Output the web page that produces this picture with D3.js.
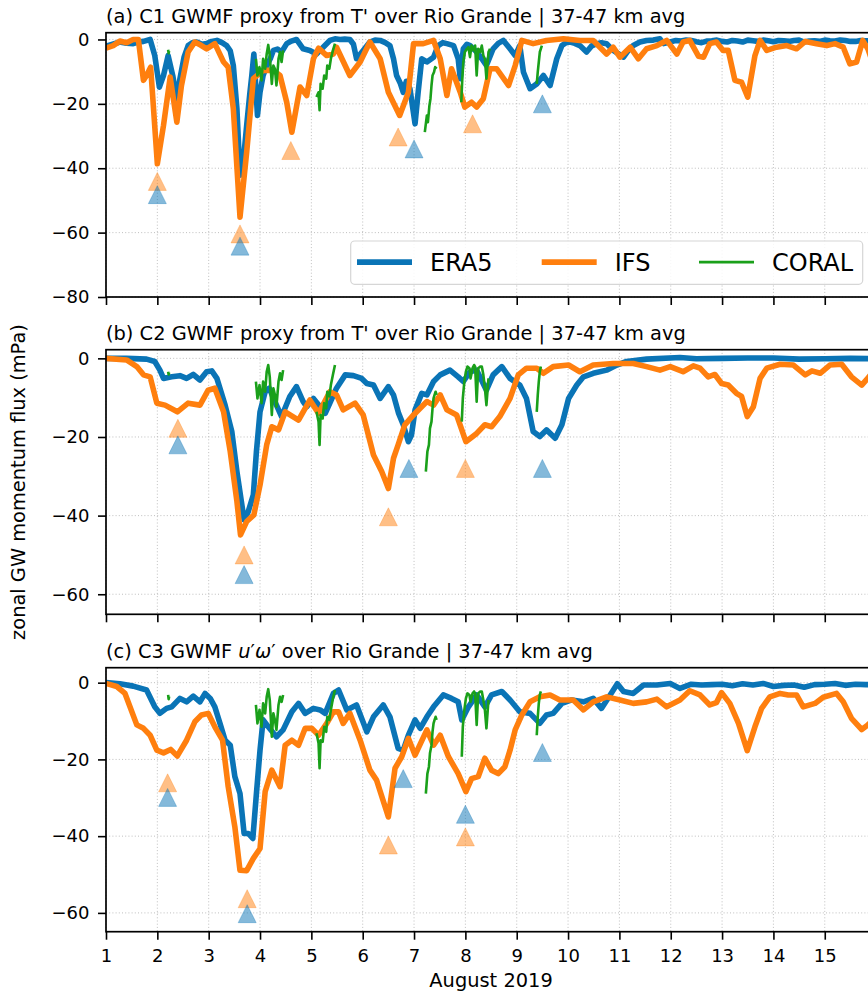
<!DOCTYPE html>
<html><head><meta charset="utf-8">
<script src="https://cdn.jsdelivr.net/npm/d3@7"></script>
<style>
body{margin:0;background:#fff}
svg{display:block}
text{font-family:"DejaVu Sans",sans-serif;fill:#000}
</style>
</head><body>
<svg id="chart" width="868" height="992"></svg>
<script>
// ---------- tick labels / text ----------
const xTicks = [1,2,3,4,5,6,7,8,9,10,11,12,13,14,15];
const yTicksA = [0,-20,-40,-60,-80];
const yTicksBC = [0,-20,-40,-60];
const legendLabels = ["ERA5","IFS","CORAL"];
const xLabel = "August 2019";
const yLabel = "zonal GW momentum flux (mPa)";

// ---------- panel (a) C1 ----------
const era5A = [[1.0,-2.1],[1.13,-1.5],[1.27,-0.8],[1.40,-1.2],[1.53,-1.3],[1.63,-0.8],[1.73,-0.6],[1.86,0],[1.95,-5.0],[2.04,-14.8],[2.12,-11.2],[2.21,-5.0],[2.30,-11.2],[2.38,-18.9],[2.44,-12.2],[2.52,-5.5],[2.60,-1.9],[2.68,-1.0],[2.77,-0.8],[2.87,-1.5],[2.96,-1.3],[3.06,-0.6],[3.16,-0.3],[3.26,-1.0],[3.35,-1.9],[3.42,-3.5],[3.48,-8.1],[3.55,-21.5],[3.61,-42.2],[3.68,-37.0],[3.74,-26.7],[3.80,-17],[3.84,-11.2],[3.88,-4.5],[3.95,-23.6],[4.00,-16.4],[4.06,-11.2],[4.13,-8.1],[4.20,-6],[4.26,-3.4],[4.34,-3.0],[4.42,-3.9],[4.52,-1.3],[4.61,-0.5],[4.71,0],[4.84,-2.9],[4.97,-3.4],[5.10,-4.5],[5.23,-2.4],[5.36,-0.3],[5.46,0.2],[5.56,0],[5.65,0.1],[5.75,0],[5.82,-1.5],[5.88,-6.0],[6.01,-3.4],[6.14,-0.8],[6.24,-0.2],[6.34,-0.3],[6.44,-1.0],[6.53,-1.9],[6.60,-6],[6.66,-11.2],[6.73,-13.5],[6.79,-16.4],[6.85,-13],[6.92,-15.3],[7.02,-26.2],[7.08,-16.4],[7.15,-6.0],[7.25,-7.0],[7.38,-5.5],[7.47,-1.9],[7.56,-1.0],[7.64,-1.3],[7.77,-1.9],[7.86,-6.0],[7.90,-12.2],[7.96,-2.9],[8.03,-1.5],[8.09,-1.9],[8.22,-3.9],[8.32,-6],[8.41,-8.1],[8.54,-2.9],[8.64,-1.2],[8.74,-0.3],[8.87,-2.9],[8.97,-5.0],[9.06,-1.9],[9.13,-10.1],[9.26,-15.3],[9.39,-13.8],[9.52,-11.2],[9.65,-14.3],[9.78,-6.0],[9.88,-1.9],[9.96,-1.0],[10.04,-0.8],[10.13,-1.2],[10.23,-1.9],[10.36,-3.9],[10.46,-2.0],[10.56,-1.3],[10.65,-1.0],[10.75,-1.3],[10.88,-3.4],[11.08,-5.5],[11.17,-3.5],[11.27,-1.9],[11.40,-0.8],[11.53,-0.3],[11.66,-0.2],[11.79,0.2],[11.86,-1.3],[11.99,-0.8],[12.1,-0.3],[12.2,-0.5],[12.3,-0.2],[12.4,-0.3],[12.5,-0.7],[12.6,-1.0],[12.7,-0.5],[12.8,-0.4],[12.9,-0.2],[13.0,-0.6],[13.1,-0.8],[13.2,-0.3],[13.3,-0.5],[13.4,-0.8],[13.5,-0.2],[13.6,-0.4],[13.7,-0.6],[13.8,-0.2],[13.9,-0.4],[14.0,-0.7],[14.1,-0.3],[14.2,-0.4],[14.3,-0.6],[14.4,-0.3],[14.5,-0.2],[14.6,-0.8],[14.7,-0.5],[14.8,-0.4],[14.9,-0.6],[15.0,-0.2],[15.1,-0.4],[15.2,-0.5],[15.3,-0.2],[15.4,-0.3],[15.5,-0.6],[15.6,-0.6],[15.7,-0.3],[15.8,-0.4],[15.9,-0.5],[16.0,-0.5]];
const ifsA = [[1.0,-2.7],[1.14,-1.9],[1.27,-0.5],[1.40,-1.0],[1.53,0],[1.63,0],[1.73,-12.7],[1.79,-11.2],[1.87,-8.6],[2.0,-38.6],[2.12,-26.7],[2.25,-11.7],[2.38,-25.7],[2.47,-14.3],[2.60,-3.9],[2.73,-0.8],[2.85,-1.8],[2.96,-2.9],[3.12,-1.3],[3.29,-7.0],[3.38,-8.6],[3.48,-21.5],[3.61,-55.2],[3.74,-35.0],[3.87,-12.2],[4.06,-9.6],[4.26,-9.6],[4.39,-11.2],[4.52,-19.5],[4.62,-28.8],[4.78,-14.8],[4.91,-17.4],[5.04,-6.0],[5.14,-2.7],[5.30,-5.0],[5.43,-4.5],[5.49,-2.4],[5.75,-11.2],[5.95,-7.0],[6.14,-0.8],[6.34,-6.0],[6.50,-16.4],[6.72,-23.6],[6.89,-16.4],[6.99,-1.3],[7.18,-1.3],[7.38,-0.3],[7.51,-6.0],[7.64,-17.4],[7.73,-9.1],[7.90,-16.4],[7.99,-21.0],[8.12,-19.5],[8.22,-21.0],[8.35,-18.4],[8.48,-9.1],[8.61,-9.1],[8.84,-14.3],[8.97,-8.1],[9.10,-0.3],[9.32,-1.3],[9.58,-0.3],[9.91,0.2],[10.23,-0.3],[10.49,-0.3],[10.75,-4.5],[10.88,-2.4],[11.01,-5.5],[11.21,-2.4],[11.37,-6.0],[11.53,-2.9],[11.73,-1.9],[11.92,-0.3],[12.12,-4.5],[12.24,-0.8],[12.37,-0.3],[12.54,-5.2],[12.64,-5.5],[12.76,-1.3],[12.89,-0.8],[13.02,-3.4],[13.12,-3.4],[13.25,-12.7],[13.38,-13.3],[13.50,-17.9],[13.64,-5.0],[13.74,-0.3],[13.87,-3.4],[14.06,-2.4],[14.26,-1.9],[14.45,-2.9],[14.62,-0.6],[14.84,-1.3],[15.04,-1.9],[15.20,-1.3],[15.36,-2.4],[15.49,-7.6],[15.62,-7.0],[15.74,-0.3],[15.84,-2.9],[15.95,-8.0],[16.0,-5.0]];
const coralA = [
 [[2.21,-3.2],[2.22,-4.3],[2.23,-3.6]],
 [[3.92,-6.0],[3.95,-11.2],[3.99,-8.6],[4.03,-12.7],[4.06,-6.0],[4.10,-9.1],[4.13,-4.5],[4.16,-1.7],[4.19,-5.0],[4.23,-13.8],[4.26,-8.1],[4.29,-9.1],[4.32,-14.3],[4.36,-6.0],[4.39,-3.9],[4.42,-7.0],[4.45,-3.4]],
 [[5.10,-17.9],[5.14,-16.4],[5.16,-22.0],[5.18,-13.8],[5.22,-15.3],[5.25,-11.2],[5.29,-12.2],[5.31,-8.1],[5.35,-9.1],[5.38,-6.0],[5.42,-3.4],[5.46,-1.3]],
 [[7.21,-28.8],[7.25,-23.6],[7.27,-25.7],[7.30,-20.5],[7.32,-18.4],[7.34,-14.3],[7.36,-11.2],[7.39,-10.1],[7.41,-8.6],[7.44,-9.1]],
 [[7.92,-19.5],[7.94,-12.2],[7.96,-7.0],[7.99,-3.9],[8.03,-2.9],[8.06,-2.4],[8.09,-5.5],[8.12,-1.9],[8.16,-3.4],[8.19,-1.9],[8.22,-11.2],[8.25,-2.9],[8.29,-3.9],[8.32,-1.9],[8.35,-5.0],[8.38,-6.0],[8.41,-12.2],[8.45,-3.9],[8.48,-2.9]],
 [[9.39,-13.8],[9.41,-10.1],[9.43,-7.0],[9.45,-3.9],[9.47,-2.9],[9.49,-1.9]]
];
const era5MarkA = [[2.0,-48.2],[3.61,-64.2],[7.0,-34.0],[9.5,-20.0]];
const ifsMarkA = [[2.0,-44.1],[3.61,-60.4],[4.60,-34.5],[6.69,-30.3],[8.14,-26.2]];

// ---------- panel (b) C2 ----------
const era5B = [[1.0,0],[1.4,0],[1.79,-0.2],[1.95,-0.8],[2.05,-3],[2.12,-5.1],[2.28,-4.7],[2.44,-4.4],[2.57,-5.1],[2.70,-4.1],[2.83,-5.5],[2.96,-3.4],[3.06,-3.2],[3.16,-5.1],[3.32,-11.9],[3.45,-18.6],[3.55,-28.8],[3.69,-41.1],[3.77,-39.0],[3.87,-34.7],[3.93,-23.7],[4.0,-13.6],[4.10,-8.5],[4.18,-7.6],[4.29,-11.0],[4.42,-14.8],[4.58,-9.7],[4.71,-7.2],[4.84,-11.0],[4.91,-12.3],[5.04,-10.2],[5.17,-12.3],[5.27,-14.0],[5.36,-11.4],[5.49,-7.6],[5.66,-4.2],[5.82,-4.4],[5.98,-5.1],[6.08,-6.4],[6.21,-6.8],[6.34,-10.2],[6.50,-7.2],[6.60,-9.3],[6.70,-14],[6.79,-16.9],[6.89,-21.2],[6.95,-19.5],[7.02,-13.1],[7.15,-8.9],[7.25,-9.3],[7.38,-5.9],[7.51,-4.2],[7.70,-3.0],[7.86,-4.7],[7.96,-5.9],[8.09,-3.4],[8.22,-3.0],[8.41,-8.1],[8.54,-4.2],[8.71,-2.1],[8.87,-5.1],[9.06,-6.8],[9.19,-10.2],[9.32,-18.6],[9.45,-19.9],[9.58,-18.2],[9.75,-20.3],[9.88,-16.9],[10.01,-10.2],[10.17,-6.8],[10.30,-4.7],[10.49,-3.8],[10.75,-3.0],[10.95,-1.7],[11.14,-0.8],[11.53,-0.2],[12.18,0.2],[12.5,-0.1],[13.0,0],[13.5,0.1],[14.0,0.1],[14.5,-0.2],[15.0,-0.1],[15.5,0],[16.0,-0.1]];
const ifsB = [[1.0,0],[1.40,-0.4],[1.60,-2.1],[1.73,-4.2],[1.86,-4.7],[1.99,-11.4],[2.15,-11.9],[2.39,-13.6],[2.60,-11.4],[2.83,-11.9],[2.99,-8.1],[3.12,-7.6],[3.29,-13.6],[3.42,-23.7],[3.55,-36.4],[3.62,-44.9],[3.74,-41.5],[3.88,-39.8],[4.0,-32.2],[4.13,-22.0],[4.23,-17.4],[4.36,-18.2],[4.49,-13.6],[4.75,-15.7],[4.97,-10.6],[5.14,-14.0],[5.36,-8.5],[5.49,-9.3],[5.62,-13.1],[5.85,-11.4],[6.01,-14.4],[6.21,-24.6],[6.37,-28.8],[6.50,-33.1],[6.60,-25.4],[6.69,-22.0],[6.82,-16.9],[6.99,-14.4],[7.25,-11.0],[7.38,-11.9],[7.51,-9.3],[7.64,-13.1],[7.83,-14.4],[8.01,-21.2],[8.22,-19.1],[8.38,-16.9],[8.51,-17.4],[8.67,-14.8],[8.87,-10.2],[9.03,-4.2],[9.19,-2.5],[9.39,-2.5],[9.52,-3.8],[9.71,-2.1],[10.01,-1.7],[10.23,-3.4],[10.49,-1.7],[10.88,-1.3],[11.27,-1.3],[11.53,-2.1],[11.79,-3.0],[11.99,-2.1],[12.24,-3.4],[12.44,-1.9],[12.57,-2.5],[12.73,-4.7],[12.86,-4.1],[12.99,-6.4],[13.12,-6.8],[13.28,-8.9],[13.38,-9.7],[13.49,-14.8],[13.61,-12.3],[13.74,-5.1],[13.87,-2.5],[14.13,-1.5],[14.39,-1.7],[14.62,-4.2],[14.75,-3.2],[14.91,-3.8],[15.10,-1.7],[15.33,-1.5],[15.52,-4.7],[15.72,-6.8],[15.84,-5.0],[16.0,-2.5]];
const coralB = [
 [[2.21,-3.4],[2.22,-4.1],[2.23,-3.6]],
 [[3.92,-5.9],[3.95,-10.2],[3.99,-6.8],[4.03,-11.4],[4.06,-5.9],[4.10,-8.5],[4.13,-3.4],[4.16,-1.7],[4.19,-4.7],[4.23,-14.4],[4.26,-7.6],[4.29,-9.3],[4.32,-12.3],[4.36,-5.9],[4.39,-3.8],[4.42,-5.5],[4.45,-3.0]],
 [[5.10,-13.6],[5.14,-16.1],[5.16,-22.0],[5.18,-14.4],[5.22,-15.3],[5.25,-11.4],[5.29,-12.7],[5.31,-8.5],[5.35,-9.7],[5.38,-6.8],[5.42,-4.2],[5.46,-1.7]],
 [[7.23,-28.8],[7.26,-23.7],[7.29,-22.0],[7.31,-17.8],[7.34,-16.1],[7.36,-12.7],[7.38,-10.2],[7.40,-9.3],[7.42,-8.5],[7.44,-9.3]],
 [[7.93,-16.1],[7.95,-10.2],[7.98,-5.9],[8.01,-3.4],[8.04,-2.1],[8.08,-2.5],[8.10,-5.1],[8.14,-2.5],[8.17,-1.7],[8.19,-2.1],[8.22,-11.0],[8.25,-2.5],[8.29,-2.1],[8.32,-2.1],[8.35,-4.2],[8.38,-7.6],[8.41,-11.9],[8.45,-5.1]],
 [[9.39,-13.6],[9.41,-9.3],[9.43,-5.9],[9.45,-3.4],[9.47,-2.1]]
];
const era5MarkB = [[2.40,-22.0],[3.69,-55.0],[6.90,-28.0],[9.50,-28.0]];
const ifsMarkB = [[2.40,-17.8],[3.69,-50.0],[6.50,-40.3],[8.00,-28.0]];

// ---------- panel (c) C3 ----------
const era5C = [[1.0,0],[1.27,-0.3],[1.53,-0.9],[1.79,-1.9],[1.95,-6.3],[2.05,-8.0],[2.18,-6.7],[2.28,-6.3],[2.44,-4.1],[2.57,-5.0],[2.70,-3.5],[2.83,-5.0],[2.93,-2.8],[3.03,-4.1],[3.12,-6.3],[3.22,-10.6],[3.32,-15.0],[3.42,-16.3],[3.51,-24.5],[3.61,-28.9],[3.69,-39.3],[3.77,-39.3],[3.86,-40.6],[3.93,-28.9],[4.0,-17.6],[4.06,-9.7],[4.16,-11.5],[4.32,-14.1],[4.45,-12.3],[4.62,-7.6],[4.75,-5.4],[4.88,-8.0],[5.04,-6.7],[5.17,-7.1],[5.27,-8.0],[5.43,-2.8],[5.53,-1.9],[5.69,-7.1],[5.88,-5.8],[6.08,-12.8],[6.21,-8.9],[6.40,-5.8],[6.53,-8.9],[6.69,-17.1],[6.79,-17.6],[6.89,-13.7],[7.02,-9.7],[7.12,-11.9],[7.25,-8.9],[7.38,-6.3],[7.57,-3.2],[7.73,-4.1],[7.86,-5.0],[7.93,-9.7],[8.06,-6.3],[8.22,-3.2],[8.38,-6.3],[8.51,-3.2],[8.71,-2.3],[8.87,-4.5],[9.06,-7.6],[9.26,-8.0],[9.45,-10.6],[9.58,-8.4],[9.71,-8.0],[9.88,-5.4],[10.07,-4.5],[10.30,-5.0],[10.49,-4.1],[10.65,-6.7],[10.82,-3.2],[10.96,-0.3],[11.08,-2.3],[11.27,-2.8],[11.47,-0.6],[11.73,-0.6],[11.99,-0.2],[12.18,-1.5],[12.4,-0.4],[12.6,-0.6],[12.8,-0.5],[13.0,-0.4],[13.2,-0.8],[13.4,-0.3],[13.6,-0.6],[13.8,-0.2],[14.0,-1.0],[14.2,-0.7],[14.4,-0.6],[14.6,-1.2],[14.8,-0.5],[15.0,-0.4],[15.2,-0.2],[15.4,-0.7],[15.6,-0.4],[15.8,-0.5],[16.0,-0.5]];
const ifsC = [[1.0,-0.2],[1.21,-1.0],[1.37,-2.8],[1.60,-11.0],[1.73,-11.9],[1.86,-13.7],[1.99,-17.6],[2.12,-18.3],[2.26,-17.4],[2.39,-19.1],[2.57,-15.0],[2.73,-10.2],[2.86,-8.4],[2.99,-8.0],[3.12,-11.5],[3.27,-15.0],[3.38,-27.1],[3.51,-37.6],[3.61,-48.9],[3.74,-49.0],[3.87,-45.8],[4.0,-43.2],[4.10,-28.4],[4.23,-22.8],[4.39,-27.1],[4.49,-16.3],[4.62,-15.0],[4.75,-16.3],[4.88,-11.9],[5.01,-11.9],[5.14,-13.7],[5.30,-10.6],[5.43,-7.6],[5.53,-7.6],[5.62,-10.6],[5.75,-8.0],[5.95,-15.0],[6.14,-22.8],[6.27,-25.4],[6.50,-35.0],[6.63,-22.3],[6.76,-19.3],[6.89,-14.5],[7.02,-18.9],[7.25,-12.3],[7.38,-16.3],[7.51,-13.7],[7.67,-19.3],[7.86,-23.7],[8.01,-28.4],[8.12,-25.0],[8.25,-24.5],[8.38,-19.7],[8.51,-22.8],[8.64,-23.7],[8.77,-21.9],[8.87,-17.6],[8.97,-12.3],[9.10,-8.4],[9.26,-5.0],[9.45,-3.7],[9.65,-3.2],[9.84,-4.5],[10.10,-4.5],[10.30,-7.1],[10.49,-5.0],[10.75,-3.7],[11.01,-4.5],[11.27,-5.4],[11.53,-5.0],[11.73,-4.3],[11.92,-6.3],[12.18,-4.5],[12.37,-2.1],[12.57,-3.2],[12.76,-5.8],[12.89,-5.2],[12.99,-2.6],[13.15,-5.4],[13.32,-10.6],[13.49,-17.7],[13.64,-11.5],[13.77,-6.7],[13.93,-3.7],[14.13,-2.8],[14.29,-3.2],[14.45,-3.2],[14.58,-6.3],[14.81,-5.4],[14.97,-3.8],[15.23,-2.8],[15.36,-5.0],[15.52,-9.3],[15.72,-12.2],[15.84,-11.0],[16.0,-9.0]];
const coralC = [
 [[2.21,-3.2],[2.22,-4.3],[2.23,-3.6]],
 [[3.92,-5.8],[3.95,-10.6],[3.99,-7.1],[4.03,-11.5],[4.06,-5.4],[4.10,-8.0],[4.13,-3.7],[4.16,-1.7],[4.19,-4.5],[4.23,-14.1],[4.26,-8.0],[4.29,-9.7],[4.32,-12.3],[4.36,-5.8],[4.39,-3.7],[4.42,-5.0],[4.45,-3.2]],
 [[5.10,-13.2],[5.14,-15.8],[5.16,-22.3],[5.18,-15.0],[5.22,-15.4],[5.25,-11.5],[5.29,-12.8],[5.31,-8.9],[5.35,-9.7],[5.38,-7.1],[5.42,-4.1],[5.46,-1.9]],
 [[7.23,-28.9],[7.26,-23.7],[7.29,-21.9],[7.31,-18.4],[7.34,-16.3],[7.36,-12.8],[7.38,-10.6],[7.40,-9.7],[7.42,-8.9],[7.44,-9.7]],
 [[7.93,-19.3],[7.95,-11.5],[7.98,-7.1],[8.01,-4.1],[8.04,-2.8],[8.08,-3.2],[8.10,-5.0],[8.14,-2.8],[8.17,-2.3],[8.19,-2.8],[8.22,-11.0],[8.25,-2.8],[8.29,-2.3],[8.32,-2.3],[8.35,-4.5],[8.38,-7.1],[8.41,-11.9],[8.45,-4.5]],
 [[9.39,-13.7],[9.41,-8.9],[9.43,-5.4],[9.45,-3.2],[9.47,-2.3]]
];
const era5MarkC = [[2.20,-29.9],[3.75,-60.2],[6.79,-25.0],[8.00,-34.3],[9.50,-18.2]];
const ifsMarkC = [[2.20,-26.1],[3.75,-56.3],[6.50,-42.3],[8.00,-40.2]];

// ---------- styling ----------
const COL_ERA5 = "#0a74b6", COL_IFS = "#ff7f0e", COL_CORAL = "#1aa01a";
const LW = 5.6;

const panels = [
  {title:[{t:"(a) C1 GWMF proxy from T' over Rio Grande | 37-47 km avg"}], top:32.7, bottom:297, dom:[-80,2.1], yt:yTicksA,
   era5:era5A, ifs:ifsA, coral:coralA, mE:era5MarkA, mI:ifsMarkA, legend:true, xlab:false},
  {title:[{t:"(b) C2 GWMF proxy from T' over Rio Grande | 37-47 km avg"}], top:349.7, bottom:614.3, dom:[-65.1,2.2], yt:yTicksBC,
   era5:era5B, ifs:ifsB, coral:coralB, mE:era5MarkB, mI:ifsMarkB, legend:false, xlab:false},
  {title:[{t:"(c) C3 GWMF "},{t:"u",i:true},{t:"′"},{t:"ω",i:true},{t:"′"},{t:" over Rio Grande | 37-47 km avg"}], top:667.7, bottom:931.7, dom:[-64.9,3.9], yt:yTicksBC,
   era5:era5C, ifs:ifsC, coral:coralC, mE:era5MarkC, mI:ifsMarkC, legend:false, xlab:true}
];

const svg = d3.select("#chart");
const defs = svg.append("defs");
const x = d3.scaleLinear().domain([1,16]).range([106, 876.1]);
const fmt = d => d < 0 ? "\u2212" + Math.abs(d) : String(d);
const tri = s => `M0,${-s}L${-s},${s}L${s},${s}Z`;

panels.forEach((p, i) => {
  const y = d3.scaleLinear().domain(p.dom).range([p.bottom, p.top]);
  const cid = "clip" + i;
  defs.append("clipPath").attr("id", cid).append("rect")
    .attr("x", x.range()[0]).attr("y", p.top)
    .attr("width", x.range()[1] - x.range()[0]).attr("height", p.bottom - p.top);
  const g = svg.append("g");

  // grid
  const grid = g.append("g").attr("stroke", "#b8b8b8").attr("stroke-width", 0.9).attr("stroke-dasharray", "1,2.2");
  grid.selectAll("line.gx").data(xTicks).join("line").attr("class","gx")
    .attr("x1", d => x(d)).attr("x2", d => x(d)).attr("y1", p.top).attr("y2", p.bottom);
  grid.selectAll("line.gy").data(p.yt).join("line").attr("class","gy")
    .attr("x1", x.range()[0]).attr("x2", x.range()[1]).attr("y1", d => y(d)).attr("y2", d => y(d));

  const plot = g.append("g").attr("clip-path", `url(#${cid})`);
  const line = d3.line().x(d => x(d[0])).y(d => y(d[1]));

  plot.append("path").datum(p.era5).attr("d", line).attr("fill","none")
    .attr("stroke", COL_ERA5).attr("stroke-width", LW).attr("stroke-linejoin","round").attr("stroke-linecap","butt");
  plot.append("path").datum(p.ifs).attr("d", line).attr("fill","none")
    .attr("stroke", COL_IFS).attr("stroke-width", LW).attr("stroke-linejoin","round").attr("stroke-linecap","butt");
  plot.selectAll("path.coral").data(p.coral).join("path").attr("class","coral")
    .attr("d", line).attr("fill","none").attr("stroke", COL_CORAL).attr("stroke-width", 2.6)
    .attr("stroke-linejoin","round");

  // markers
  plot.selectAll("path.mi").data(p.mI).join("path").attr("class","mi")
    .attr("transform", d => `translate(${x(d[0])},${y(d[1])})`).attr("d", tri(9))
    .attr("fill", COL_IFS).attr("fill-opacity", 0.5).attr("stroke", COL_IFS).attr("stroke-opacity", 0.3).attr("stroke-width", 1);
  plot.selectAll("path.me").data(p.mE).join("path").attr("class","me")
    .attr("transform", d => `translate(${x(d[0])},${y(d[1])})`).attr("d", tri(9))
    .attr("fill", COL_ERA5).attr("fill-opacity", 0.5).attr("stroke", COL_ERA5).attr("stroke-opacity", 0.3).attr("stroke-width", 1);

  // axes
  const ya = g.append("g").attr("transform", `translate(${x.range()[0]},0)`)
    .call(d3.axisLeft(y).tickValues(p.yt).tickFormat(fmt).tickSize(8).tickPadding(8.5).tickSizeOuter(0));
  const xa = g.append("g").attr("transform", `translate(0,${p.bottom})`)
    .call(d3.axisBottom(x).tickValues(xTicks).tickFormat(p.xlab ? d => String(d) : () => "").tickSize(8).tickPadding(10).tickSizeOuter(0));
  [ya, xa].forEach(a => {
    a.select(".domain").remove();
    a.selectAll(".tick line").attr("stroke", "#000").attr("stroke-width", 1.6);
    a.selectAll(".tick text").attr("font-family", "DejaVu Sans").attr("font-size", 18).attr("fill", "#000");
  });

  // frame
  g.append("rect").attr("x", x.range()[0]).attr("y", p.top)
    .attr("width", x.range()[1] - x.range()[0]).attr("height", p.bottom - p.top)
    .attr("fill","none").attr("stroke","#000").attr("stroke-width",1.7);

  // title
  const tt = g.append("text").attr("x", x.range()[0]).attr("y", p.top - 10).attr("font-size", 19.4);
  p.title.forEach(s => {
    const ts = tt.append("tspan").text(s.t);
    if (s.i) ts.attr("font-style", "italic");
  });

  // legend
  if (p.legend) {
    const lg = g.append("g");
    const lx = 350.7, ly = 241, lw = 512, lh = 43.3;
    lg.append("rect").attr("x", lx).attr("y", ly).attr("width", lw).attr("height", lh)
      .attr("rx", 4).attr("fill", "#fff").attr("fill-opacity", 0.85).attr("stroke", "#d6d6d6").attr("stroke-width", 1.2);
    const cols = [COL_ERA5, COL_IFS, COL_CORAL];
    const widths = [LW, LW, 2.8];
    const starts = [357, 541.7, 699];
    const cy = ly + lh / 2 - 0.5;
    legendLabels.forEach((lab, k) => {
      lg.append("line").attr("x1", starts[k]).attr("x2", starts[k] + 55).attr("y1", cy).attr("y2", cy)
        .attr("stroke", cols[k]).attr("stroke-width", widths[k]);
      lg.append("text").attr("x", starts[k] + 73).attr("y", cy).attr("dy", "0.36em")
        .attr("font-size", 24).text(lab);
    });
  }
});

// axis labels
svg.append("text").attr("x", (x.range()[0] + x.range()[1]) / 2).attr("y", 987)
  .attr("text-anchor", "middle").attr("font-size", 19.4).text(xLabel);
svg.append("text").attr("transform", "translate(25,482) rotate(-90)")
  .attr("text-anchor", "middle").attr("font-size", 19.4).text(yLabel);
</script>
</body></html>
